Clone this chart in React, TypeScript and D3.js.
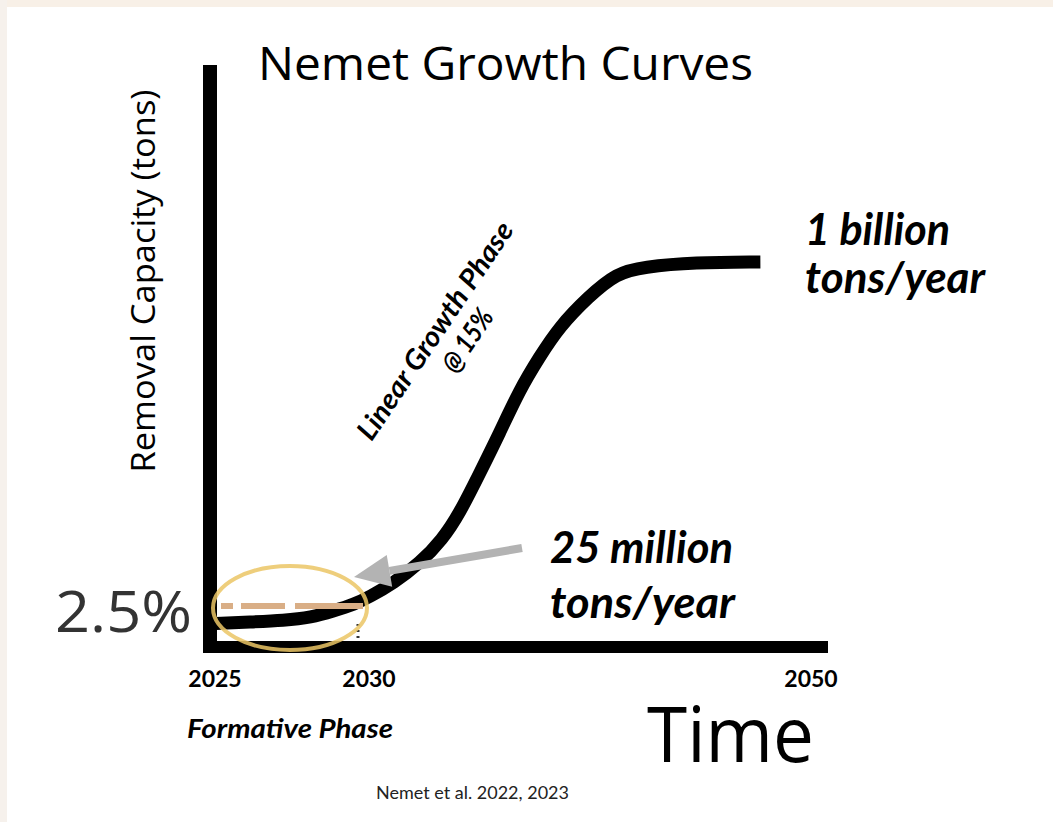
import * as d3 from "d3";
import { useEffect } from "react";

// Curve: year vs removal capacity (million tons/year)
const YEARS = [2025.1, 2026.2, 2027.3, 2028.2, 2028.9, 2029.6, 2030.1, 2031.2, 2032.4, 2033.4, 2034.2, 2035.1, 2036.0, 2036.9, 2037.8, 2038.7, 2040.0, 2041.3, 2042.5, 2044.8, 2047.8];
const CAPACITY_MT = [15, 16, 17, 19, 23, 36, 56, 95, 152, 217, 293, 405, 518, 639, 732, 817, 901, 969, 986, 999, 1000];
const X_TICKS = [2025, 2030, 2050];
const FORMATIVE = [2025, 2030];
const TARGET_MT = 25;

const W = 1053;
const H = 822;
const SANS = "'Open Sans', 'Noto Sans', sans-serif";
const CAL = "Lato, 'Noto Sans', sans-serif";

export default function App() {
  useEffect(() => {
    document.body.style.margin = "0";
    document.body.style.background = "#ffffff";
  }, []);

  // the sketch is not to scale, so both axes are piecewise
  const x = d3.scaleLinear().domain([2025, 2030, 2050]).range([213, 367, 809]);
  const y = d3.scaleLinear().domain([0, TARGET_MT, 1000]).range([647, 608, 262]);

  const pts = YEARS.map((yr, i) => ({ yr, v: CAPACITY_MT[i] }));
  const line = d3
    .line<{ yr: number; v: number }>()
    .x((d) => x(d.yr))
    .y((d) => y(d.v))
    .curve(d3.curveBasis);

  // arrow pointing at the 25 Mt level
  const tail = [522, 548];
  const tip = [354, 577];
  const dx = tip[0] - tail[0];
  const dy = tip[1] - tail[1];
  const len = Math.hypot(dx, dy);
  const ux = dx / len;
  const uy = dy / len;
  const headL = 36;
  const headW = 16;
  const bx = tip[0] - ux * headL;
  const by = tip[1] - uy * headL;
  const head = `M${tip[0]},${tip[1]}L${bx - uy * headW},${by + ux * headW}L${bx + uy * headW},${by - ux * headW}Z`;

  const ex = (x(FORMATIVE[0]) + x(FORMATIVE[1])) / 2;
  const erx = (x(FORMATIVE[1]) - x(FORMATIVE[0])) / 2;
  const ey = y(TARGET_MT);

  return (
    <svg width={W} height={H} style={{ display: "block" }}>
      <rect width={W} height={H} fill="#ffffff" />
      <rect width={W} height={7} fill="#f8f0e7" />
      <rect width={7} height={H} fill="#f6f1ec" />

      <text x={258} y={80} fontFamily={SANS} fontSize={46} textLength={495} lengthAdjust="spacingAndGlyphs" fill="#000">
        Nemet Growth Curves
      </text>

      <text
        transform="translate(155,281) rotate(-90)"
        textAnchor="middle"
        fontFamily={SANS}
        fontSize={32}
        textLength={383}
        lengthAdjust="spacingAndGlyphs"
        fill="#000"
      >
        Removal Capacity (tons)
      </text>

      {/* axes */}
      <line x1={210} x2={210} y1={65} y2={653} stroke="#000" strokeWidth={14} />
      <line x1={203} x2={828} y1={647} y2={647} stroke="#000" strokeWidth={12} />

      {/* growth curve */}
      <path d={line(pts) ?? ""} fill="none" stroke="#000" strokeWidth={13} />

      {/* 25 Mt marker inside the formative phase */}
      <line
        x1={x(FORMATIVE[0]) + 8}
        x2={x(FORMATIVE[1]) - 4}
        y1={ey - 2}
        y2={ey - 2}
        stroke="#d9ae86"
        strokeWidth={6}
        strokeDasharray="12 8 44 10 200"
      />
      <line x1={x(FORMATIVE[1]) - 9} x2={x(FORMATIVE[1]) - 9} y1={624} y2={640} stroke="#333" strokeWidth={3} strokeDasharray="2 4" />
      <ellipse cx={ex} cy={ey} rx={erx} ry={42} fill="none" stroke="#ebc665" strokeWidth={4} opacity={0.85} />

      <line x1={tail[0]} y1={tail[1]} x2={bx} y2={by} stroke="#b3b3b3" strokeWidth={8} />
      <path d={head} fill="#b3b3b3" />

      <text x={192} y={632} textAnchor="end" fontFamily={SANS} fontSize={56} textLength={137} lengthAdjust="spacingAndGlyphs" fill="#333">
        2.5%
      </text>

      {X_TICKS.map((t) => (
        <text key={t} x={x(t) + 2} y={687} textAnchor="middle" fontFamily={CAL} fontWeight={700} fontSize={23} fill="#000">
          {t}
        </text>
      ))}

      <text x={187} y={738} fontFamily={CAL} fontWeight={700} fontStyle="italic" fontSize={27} textLength={206} lengthAdjust="spacingAndGlyphs" fill="#000">
        Formative Phase
      </text>

      <text x={647} y={762} fontFamily={SANS} fontSize={76} textLength={167} lengthAdjust="spacingAndGlyphs" fill="#000">
        Time
      </text>

      <text x={376} y={799} fontFamily={CAL} fontSize={17} textLength={193} lengthAdjust="spacingAndGlyphs" fill="#222">
        Nemet et al. 2022, 2023
      </text>

      <g transform="translate(434,330) rotate(-56)" fontFamily={CAL} fontWeight={700} fontStyle="italic" fontSize={28} fill="#000">
        <text x={0} y={0} textAnchor="middle" dominantBaseline="central" textLength={256} lengthAdjust="spacingAndGlyphs">
          Linear Growth Phase
        </text>
        <text x={10} y={32} textAnchor="middle" dominantBaseline="central" textLength={70} lengthAdjust="spacingAndGlyphs">
          @ 15%
        </text>
      </g>

      <g fontFamily={CAL} fontWeight={700} fontStyle="italic" fontSize={43} fill="#000">
        <text x={805} y={245} textLength={145} lengthAdjust="spacingAndGlyphs">1 billion</text>
        <text x={805} y={293} textLength={180} lengthAdjust="spacingAndGlyphs">tons/year</text>
        <text x={550} y={563} textLength={183} lengthAdjust="spacingAndGlyphs">25 million</text>
        <text x={550} y={618} textLength={185} lengthAdjust="spacingAndGlyphs">tons/year</text>
      </g>
    </svg>
  );
}
